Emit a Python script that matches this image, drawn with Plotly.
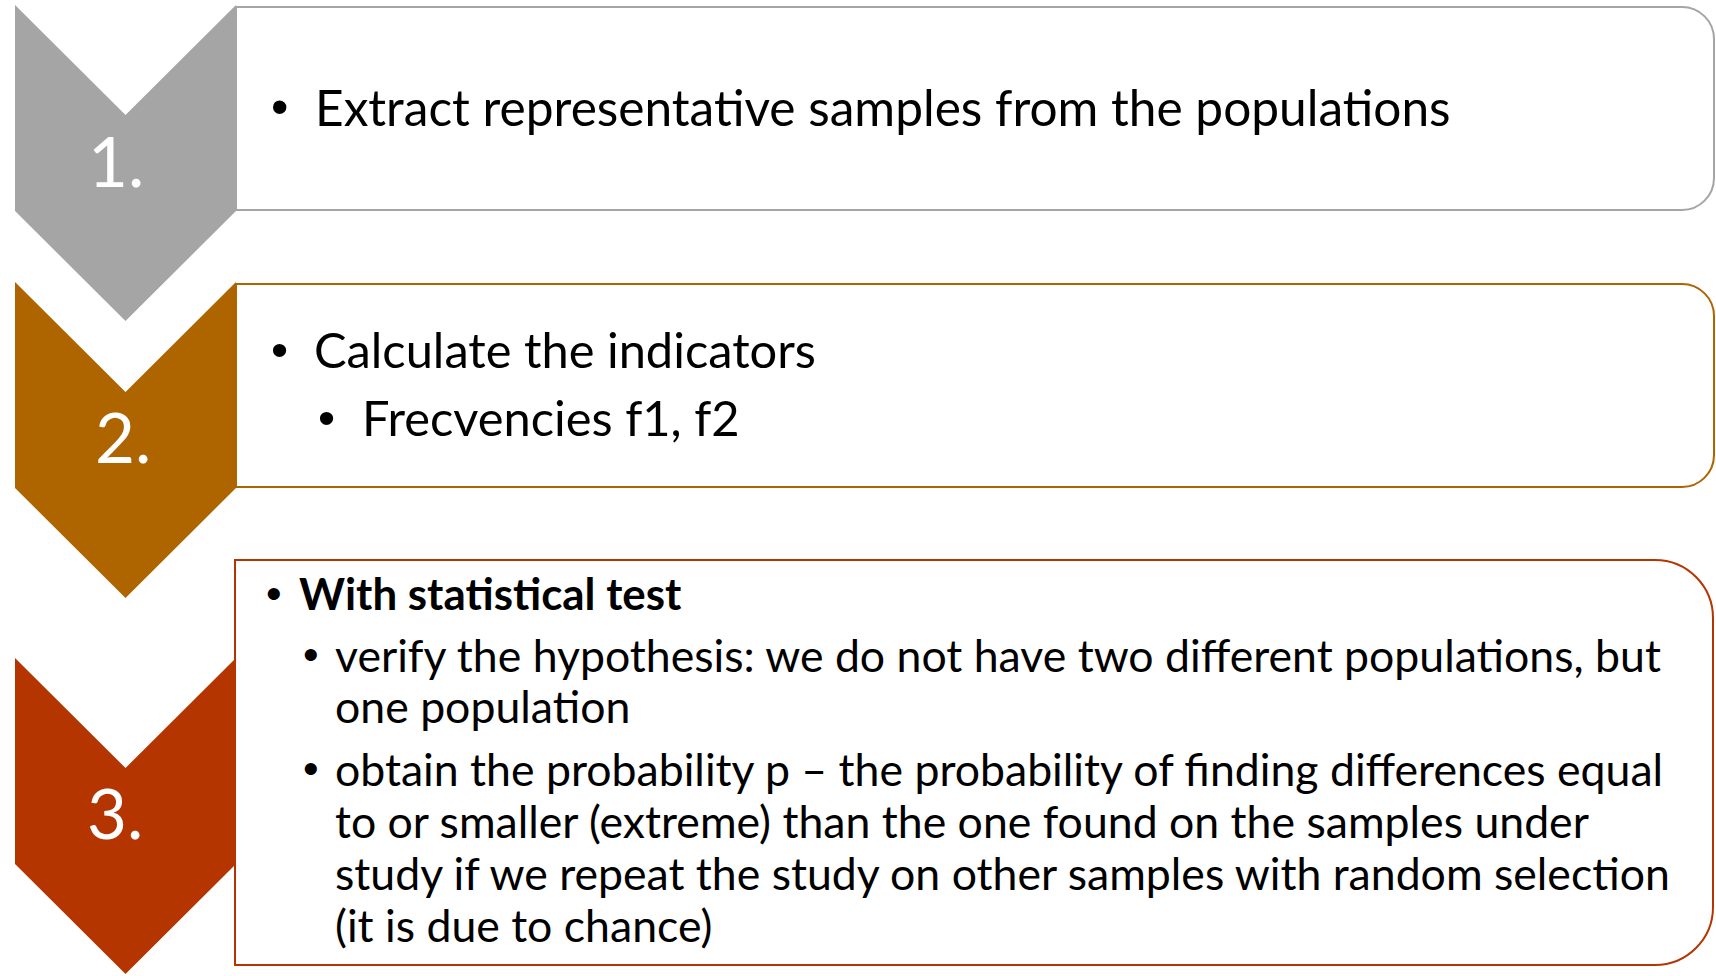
import plotly.graph_objects as go

# ---------------- data ----------------
step_labels = ["1.", "2.", "3."]
step_colors = ["#A5A5A5", "#AE6500", "#B53500"]

box1_levels = [0]
box1_bullets = [True]
box1_bold = [False]
box1_text = ["Extract representative samples from the populations"]

box2_levels = [0, 1]
box2_bullets = [True, True]
box2_bold = [False, False]
box2_text = ["Calculate the indicators", "Frecvencies f1, f2"]

box3_levels = [0, 1, 1, 1, 1, 1, 1]
box3_bullets = [True, True, False, True, False, False, False]
box3_bold = [True, False, False, False, False, False, False]
box3_text = [
    "With statistical test",
    "verify the hypothesis: we do not have two different populations, but",
    "one population",
    "obtain the probability p – the probability of finding differences equal",
    "to or smaller (extreme) than the one found on the samples under",
    "study if we repeat the study on other samples with random selection",
    "(it is due to chance)",
]

# ---------------- layout geometry (pixels) ----------------
W, H = 1716, 976
FONT = "Lato, 'Open Sans', sans-serif"
CH_X0, CH_X1 = 15, 236
CH_DEPTH = 110
CH_SIDE = 206
chevron_tops = [5, 282, 658]
label_cy = [160, 436, 812]
label_cx = [116, 123, 115]
LABEL_SIZE = 69

box_x0 = [236, 236, 235]
box_x1 = [1714, 1714, 1713]
box_y0 = [7, 284, 560]
box_y1 = [210, 487, 965]
box_r = [32, 32, 58]

box_font = [49.6, 48.8, 44.6]
bold_size = 43.9
bullet_x = [[279], [279, 326], [274, 311]]
text_x = [[313], [312, 360], [297, 333, 333, 333, 333, 333, 333]]
baselines = [[125], [367, 435], [609, 671, 722, 785, 837, 889, 941]]
MID_K = 0.36  # baseline -> visual middle offset (em)

boxes = [
    (box1_levels, box1_bullets, box1_bold, box1_text),
    (box2_levels, box2_bullets, box2_bold, box2_text),
    (box3_levels, box3_bullets, box3_bold, box3_text),
]

fig = go.Figure()
# invisible trace to establish axes
fig.add_trace(go.Scatter(x=[0, W], y=[0, H], mode="markers",
                         marker=dict(opacity=0), hoverinfo="skip", showlegend=False))

shapes = []
annotations = []
xm = (CH_X0 + CH_X1) / 2
for i, (lab, col) in enumerate(zip(step_labels, step_colors)):
    t = chevron_tops[i]
    path = (f"M {CH_X0},{t} L {xm},{t + CH_DEPTH} L {CH_X1},{t} "
            f"L {CH_X1},{t + CH_SIDE} L {xm},{t + CH_SIDE + CH_DEPTH} "
            f"L {CH_X0},{t + CH_SIDE} Z")
    shapes.append(dict(type="path", path=path, xref="x", yref="y",
                       fillcolor=col, line=dict(width=0), layer="above"))
    annotations.append(dict(x=label_cx[i], y=label_cy[i], xref="x", yref="y",
                            text=lab, showarrow=False, xanchor="center", yanchor="middle",
                            font=dict(family=FONT, size=LABEL_SIZE, color="white")))

k = 0.5523
for i, col in enumerate(step_colors):
    x0, x1, y0, y1, r = box_x0[i], box_x1[i], box_y0[i], box_y1[i], box_r[i]
    path = (f"M {x0},{y0} L {x1 - r},{y0} "
            f"C {x1 - r + k * r},{y0} {x1},{y0 + r - k * r} {x1},{y0 + r} "
            f"L {x1},{y1 - r} "
            f"C {x1},{y1 - r + k * r} {x1 - r + k * r},{y1} {x1 - r},{y1} "
            f"L {x0},{y1} Z")
    shapes.append(dict(type="path", path=path, xref="x", yref="y",
                       fillcolor="white", line=dict(color=col, width=2), layer="above"))

for b, (levels, bullets, bolds, texts) in enumerate(boxes):
    for j, txt in enumerate(texts):
        fs = bold_size if bolds[j] else box_font[b]
        lvl = levels[j]
        bx = bullet_x[b][lvl]
        tx = text_x[b][j]
        yc = baselines[b][j] - MID_K * fs
        if bullets[j]:
            annotations.append(dict(x=bx, y=yc, xref="x", yref="y", text="•",
                                    showarrow=False, xanchor="center", yanchor="middle",
                                    font=dict(family="Arial, 'Liberation Sans'", size=box_font[b], color="black")))
        annotations.append(dict(x=tx, y=yc, xref="x", yref="y",
                                text=f"<b>{txt}</b>" if bolds[j] else txt,
                                showarrow=False, xanchor="left", yanchor="middle",
                                font=dict(family=FONT, size=fs, color="black")))

fig.update_layout(
    width=W, height=H,
    margin=dict(l=0, r=0, t=0, b=0),
    paper_bgcolor="white", plot_bgcolor="white",
    xaxis=dict(range=[0, W], visible=False, fixedrange=True),
    yaxis=dict(range=[H, 0], visible=False, fixedrange=True),
    shapes=shapes, annotations=annotations,
    showlegend=False,
)
fig.write_html("out.html", config={"displayModeBar": False},
               post_script="document.body.style.margin='0';document.body.style.overflow='hidden';")
